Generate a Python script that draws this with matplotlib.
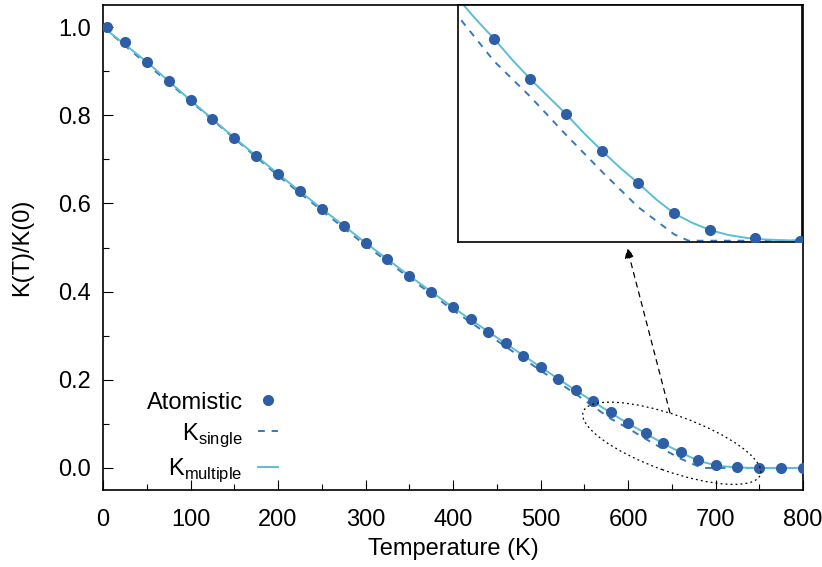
import matplotlib
matplotlib.use('Agg')
import matplotlib.pyplot as plt
import matplotlib.transforms as mtransforms
from matplotlib.patches import Ellipse
from matplotlib import rcParams
rcParams['font.family'] = ['Liberation Sans', 'DejaVu Sans']
rcParams['mathtext.fontset'] = 'custom'
rcParams['mathtext.rm'] = 'Liberation Sans'

# atomistic simulation points
T_atom = [5, 25, 50, 75, 100, 125, 150, 175, 200, 225, 250, 275, 300, 325, 350, 375, 400,
          420, 440, 460, 480, 500, 520, 540, 560, 580, 600, 620, 640, 660, 680, 700,
          725, 750, 775, 800]
K_atom = [1.000, 0.965, 0.921, 0.878, 0.834, 0.791, 0.749, 0.708, 0.667, 0.628, 0.587, 0.549,
          0.510, 0.475, 0.435, 0.399, 0.365, 0.337, 0.308, 0.283, 0.253, 0.229, 0.202, 0.176,
          0.152, 0.126, 0.101, 0.079, 0.056, 0.036, 0.017, 0.0065, 0.0016, 0.0, 0.0, 0.0]

# K_multiple curve (solid)
T_multi = [0, 50, 100, 150, 200, 250, 300, 350, 400, 450, 500, 540, 560, 570, 580, 590, 600,
           610, 620, 630, 640, 650, 660, 670, 680, 690, 700, 710, 720, 730, 740, 750, 760, 800]
K_multi = [1.000, 0.921, 0.834, 0.749, 0.667, 0.588, 0.511, 0.436, 0.364, 0.296, 0.229, 0.176,
           0.151, 0.138, 0.126, 0.113, 0.101, 0.090, 0.079, 0.067, 0.056, 0.0455, 0.036, 0.0258,
           0.017, 0.0112, 0.0066, 0.0036, 0.0018, 0.0008, 0.0003, 0.0001, 0.0, 0.0]

# K_single curve (dashed)
T_single = [0, 100, 200, 300, 400, 450, 500, 540, 560, 580, 600, 620, 640, 660, 680, 688, 800]
K_single = [1.000, 0.832, 0.663, 0.505, 0.358, 0.289, 0.221, 0.168, 0.140, 0.112, 0.090,
            0.066, 0.043, 0.021, 0.004, 0.0, 0.0]

c_atom = '#2E5EA6'
c_single = '#3A78BC'
c_multi = '#5BBED6'
fs = 17


def draw_data(ax, ms):
    ax.plot(T_single, K_single, color=c_single, lw=1.4, dashes=(3.5, 3.5), label=r'K$_{\mathregular{single}}$')
    ax.plot(T_multi, K_multi, color=c_multi, lw=1.4, label=r'K$_{\mathregular{multiple}}$')
    ax.plot(T_atom, K_atom, 'o', color=c_atom, ms=ms, mec='none', label='Atomistic', zorder=5)


fig = plt.figure(figsize=(8.22, 5.67), dpi=100)
ax = fig.add_axes([103/822, 1-490/567, 700/822, 485/567])
draw_data(ax, 8)
ax.set_xlim(0, 800)
ax.set_ylim(-0.05, 1.05)
ax.set_xticks(range(0, 801, 100))
ax.set_xticks(range(50, 800, 100), minor=True)
ax.set_yticks([0.0, 0.2, 0.4, 0.6, 0.8, 1.0])
ax.set_yticks([0.1, 0.3, 0.5, 0.7, 0.9], minor=True)
ax.set_yticklabels(['0.0', '0.2', '0.4', '0.6', '0.8', '1.0'])
ax.tick_params(which='both', direction='in', labelsize=fs, width=0.8)
ax.tick_params(which='major', length=7)
ax.tick_params(axis='x', which='major', pad=14)
ax.tick_params(axis='y', which='major', pad=9)
ax.tick_params(which='minor', length=4)
for s in ax.spines.values():
    s.set_linewidth(1.2)
ax.set_xlabel('Temperature (K)', fontsize=fs, labelpad=5)
ax.set_ylabel('K(T)/K(0)', fontsize=fs, labelpad=18)

h, l = ax.get_legend_handles_labels()
ax.legend([h[2], h[0], h[1]], [l[2], l[0], l[1]], loc='lower right', bbox_to_anchor=(0.25, 0.012),
          frameon=False, markerfirst=False, fontsize=fs, handlelength=0.85, labelspacing=0.32,
          handletextpad=0.65, borderpad=0, borderaxespad=0)

# dotted ellipse around the tail
el_trans = fig.dpi_scale_trans + mtransforms.ScaledTranslation(650, 0.056, ax.transData)
ax.add_patch(Ellipse((0, 0), 1.88, 0.56, angle=-19.6, transform=el_trans, fill=False,
                     ec='black', lw=0.9, ls=(0, (1.5, 2.5)), zorder=6))

# arrow to the inset
ax.annotate('', xy=(599, 0.499), xytext=(648, 0.125),
            arrowprops=dict(arrowstyle='-|>', color='black', lw=0.9, ls=(0, (4, 4)),
                            mutation_scale=15, shrinkA=0, shrinkB=0))

# inset
axin = fig.add_axes([458/822, 1-242/567, 344/822, 237/567])
draw_data(axin, 8)
axin.set_xlim(560, 751)
axin.set_ylim(-0.0008, 0.147)
axin.set_xticks([])
axin.set_yticks([])
for s in axin.spines.values():
    s.set_linewidth(1.2)

fig.savefig('out.png', dpi=100)
